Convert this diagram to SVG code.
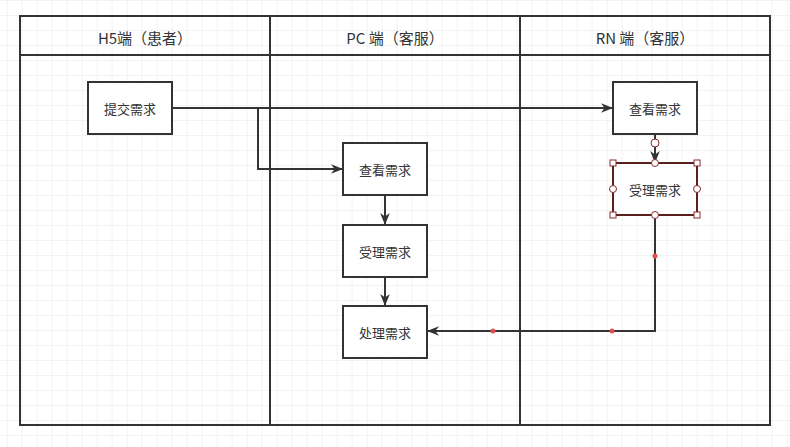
<svg xmlns="http://www.w3.org/2000/svg" width="790" height="447" viewBox="0 0 790 447">
<defs>
<pattern id="g" x="7.7" y="1" width="15" height="15" patternUnits="userSpaceOnUse"><path d="M15 0V15M0 15H15" fill="none" stroke="#e6e6e6" stroke-width="1"/></pattern>
<marker id="b" viewBox="0 0 10 10" refX="10" refY="5" markerWidth="12" markerHeight="12" orient="auto" markerUnits="userSpaceOnUse"><path d="M0 1L10 5L0 9L3 5Z" fill="#333"/></marker>
</defs>
<style>
text{font-family:"Noto Sans CJK SC","Liberation Sans",sans-serif;fill:#333;text-anchor:middle;dominant-baseline:central}
.h{font-size:15px}.n{font-size:13px}
.box{fill:#fff;stroke:#333;stroke-width:2}
.e{fill:none;stroke:#333;stroke-width:2}
.sel{fill:#fff;stroke:#8b2b2b;stroke-width:1}
</style>
<rect width="790" height="447" fill="#fff"/>
<rect width="790" height="447" fill="url(#g)"/>
<g id="pool">
<rect x="20" y="16" width="750" height="409" fill="none" stroke="#333" stroke-width="2"/>
<line x1="20" y1="55" x2="770" y2="55" stroke="#333" stroke-width="2"/>
<line x1="270" y1="16" x2="270" y2="425" stroke="#333" stroke-width="2"/>
<line x1="520" y1="16" x2="520" y2="425" stroke="#333" stroke-width="2"/>
<text class="h" x="145" y="37">H5端（患者）</text>
<text class="h" x="395" y="37">PC 端（客服）</text>
<text class="h" x="645" y="37">RN 端（客服）</text>
</g>
<g id="connectors">
<path class="e" d="M172 108H613" marker-end="url(#b)"/>
<path class="e" d="M258 108V169H343" marker-end="url(#b)"/>
<path class="e" d="M385 195V225" marker-end="url(#b)"/>
<path class="e" d="M385 277V306" marker-end="url(#b)"/>
<path class="e" d="M655 134V163" marker-end="url(#b)"/>
<path class="e" d="M655 215V331H427" marker-end="url(#b)"/>
<circle cx="655" cy="256" r="2.5" fill="#e05050"/>
<circle cx="612" cy="331" r="2.5" fill="#e05050"/>
<circle cx="493" cy="331" r="2.5" fill="#e05050"/>
</g>
<g id="n1"><rect class="box" x="88" y="82" width="84" height="52"/><text class="n" x="130" y="108">提交需求</text></g>
<g id="n2"><rect class="box" x="613" y="82" width="84" height="52"/><text class="n" x="655" y="108">查看需求</text></g>
<g id="n3"><rect class="box" x="343" y="143" width="84" height="52"/><text class="n" x="385" y="169">查看需求</text></g>
<g id="n4"><rect class="box" x="343" y="225" width="84" height="52"/><text class="n" x="385" y="251">受理需求</text></g>
<g id="n5"><rect class="box" x="343" y="306" width="84" height="52"/><text class="n" x="385" y="332">处理需求</text></g>
<g id="n6"><rect x="613" y="163" width="84" height="52" fill="#fff" stroke="#5a2020" stroke-width="2"/><text class="n" x="655" y="189">受理需求</text>
<circle class="sel" cx="655" cy="143" r="4"/>
<circle class="sel" cx="655" cy="163" r="3.5"/><circle class="sel" cx="655" cy="215" r="3.5"/>
<circle class="sel" cx="613" cy="189" r="3.5"/><circle class="sel" cx="697" cy="189" r="3.5"/>
<rect class="sel" x="610" y="160" width="6" height="6"/><rect class="sel" x="694" y="160" width="6" height="6"/>
<rect class="sel" x="610" y="212" width="6" height="6"/><rect class="sel" x="694" y="212" width="6" height="6"/>
</g>
</svg>
